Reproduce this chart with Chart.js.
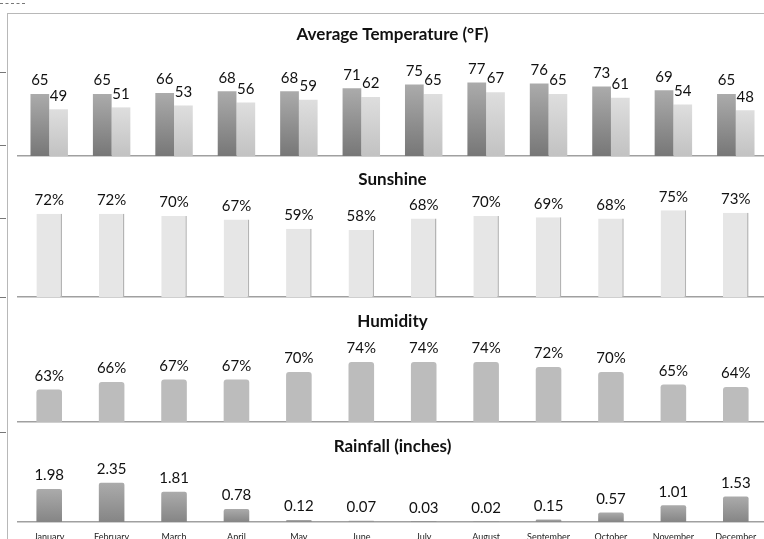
<!DOCTYPE html>
<html>
<head>
<meta charset="utf-8">
<script src="https://cdn.jsdelivr.net/npm/chart.js@4/dist/chart.umd.min.js"></script>
<style>
  html, body { margin: 0; padding: 0; background: #fff; overflow: hidden; }
  #wrap { position: relative; width: 764px; height: 539px; overflow: hidden; }
  #wrap canvas { position: absolute; left: 0; }
  .frameL { position: absolute; left: 7px; top: 13px; width: 0; height: 530px; border-left: 1px solid #b8b8b8; }
  .frameT { position: absolute; left: 7px; top: 13px; width: 760px; height: 0; border-top: 1px solid #b8b8b8; }
  .dash { position: absolute; left: 0; width: 6px; height: 0; border-top: 1px dashed #777; }
</style>
</head>
<body>
<div id="wrap">
  <div class="dash" style="top:3px;width:25px"></div>
  <div class="dash" style="top:72px"></div>
  <div class="dash" style="top:145px"></div>
  <div class="dash" style="top:218px"></div>
  <div class="dash" style="top:297px"></div>
  <div class="dash" style="top:432px"></div>
  <div class="frameL"></div>
  <div class="frameT"></div>
  <canvas id="temp" width="770" height="145" style="top:13px"></canvas>
  <canvas id="sun" width="770" height="143" style="top:156px"></canvas>
  <canvas id="hum" width="770" height="127" style="top:297px"></canvas>
  <canvas id="rain" width="770" height="125" style="top:422px"></canvas>
</div>
<script>
const months = ["January", "February", "March", "April", "May", "June", "July", "August", "September", "October", "November", "December"];
const tempHigh = [65, 65, 66, 68, 68, 71, 75, 77, 76, 73, 69, 65];
const tempLow = [49, 51, 53, 56, 59, 62, 65, 67, 65, 61, 54, 48];
const sunshine = [72, 72, 70, 67, 59, 58, 68, 70, 69, 68, 75, 73];
const humidity = [63, 66, 67, 67, 70, 74, 74, 74, 72, 70, 65, 64];
const rainfall = [1.98, 2.35, 1.81, 0.78, 0.12, 0.07, 0.03, 0.02, 0.15, 0.57, 1.01, 1.53];

// label formats per panel (kept out of chart options, which would call them as scriptables)
const formats = {
  temp: (v) => String(v),
  sun: (v) => v + "%",
  hum: (v) => v + "%",
  rain: (v) => v.toFixed(2)
};

// vertical gradient per bar, from its top down to the baseline
function grad(topColor, bottomColor) {
  return (c) => {
    const chart = c.chart;
    if (!chart.chartArea || c.raw == null || !chart.scales.y) return bottomColor;
    const y0 = chart.scales.y.getPixelForValue(c.raw);
    const y1 = chart.chartArea.bottom;
    if (!isFinite(y0) || y1 - y0 < 1) return bottomColor;
    const g = chart.ctx.createLinearGradient(0, y0, 0, y1);
    g.addColorStop(0, topColor);
    g.addColorStop(1, bottomColor);
    return g;
  };
}

const labelsPlugin = {
  id: "panelLabels",
  afterDatasetsDraw(chart) {
    const ctx = chart.ctx;
    const o = chart.options.plugins.panelLabels;
    const fmt = formats[chart.canvas.id];
    ctx.save();
    ctx.fillStyle = "#111";
    ctx.textAlign = "center";
    ctx.textBaseline = "bottom";
    ctx.font = "15px Lato";
    chart.data.datasets.forEach((ds, i) => {
      chart.getDatasetMeta(i).data.forEach((bar, j) => {
        ctx.fillText(fmt(ds.data[j]), bar.x, bar.y - 6);
      });
    });
    ctx.font = "bold 17px Lato";
    ctx.textBaseline = "middle";
    const a = chart.chartArea;
    ctx.fillText(o.title, (a.left + a.right) / 2, a.top + o.titleY);
    ctx.restore();
  }
};

function makePanel(id, datasets, yMin, yMax, title, titleY, last) {
  return new Chart(document.getElementById(id), {
    type: "bar",
    data: { labels: months, datasets: datasets },
    options: {
      responsive: false,
      animation: false,
      layout: { padding: { left: 18, right: 3, top: 0, bottom: last ? 0 : 2 } },
      scales: {
        x: {
          grid: { display: false, drawTicks: false },
          border: { display: true, color: "#a0a0a0", width: 1.5 },
          ticks: {
            display: last,
            padding: 10,
            color: "#222",
            font: { family: "Lato", size: 9 },
            maxRotation: 0,
            autoSkip: false
          },
          afterFit: (s) => { s.height = last ? 25 : 0; }
        },
        y: { display: false, min: yMin, max: yMax }
      },
      plugins: {
        legend: { display: false },
        tooltip: { enabled: false },
        panelLabels: { title: title, titleY: titleY }
      }
    },
    plugins: [labelsPlugin]
  });
}

makePanel("temp", [
  { data: tempHigh, backgroundColor: grad("#ababab", "#777777"), categoryPercentage: 0.6, barPercentage: 1.0 },
  { data: tempLow, backgroundColor: grad("#dedede", "#c2c2c2"), categoryPercentage: 0.6, barPercentage: 1.0 }
], 0, 150, "Average Temperature (°F)", 22, false);

makePanel("sun", [
  { data: sunshine, backgroundColor: "#e6e6e6", borderColor: "#b4b4b4",
    borderWidth: { left: 0, top: 0, bottom: 0, right: 1.5 }, borderSkipped: false,
    categoryPercentage: 0.41, barPercentage: 1.0 }
], 0, 122, "Sunshine", 24, false);

makePanel("hum", [
  { data: humidity, backgroundColor: "#bcbcbc", borderRadius: { topLeft: 3, topRight: 3 }, borderSkipped: "bottom",
    categoryPercentage: 0.41, barPercentage: 1.0 }
], 50, 100, "Humidity", 25, false);

makePanel("rain", [
  { data: rainfall, backgroundColor: grad("#ababab", "#858585"), borderRadius: { topLeft: 2, topRight: 2 }, borderSkipped: "bottom",
    categoryPercentage: 0.41, barPercentage: 1.0 }
], 0, 6, "Rainfall (inches)", 25, true);
</script>
</body>
</html>
